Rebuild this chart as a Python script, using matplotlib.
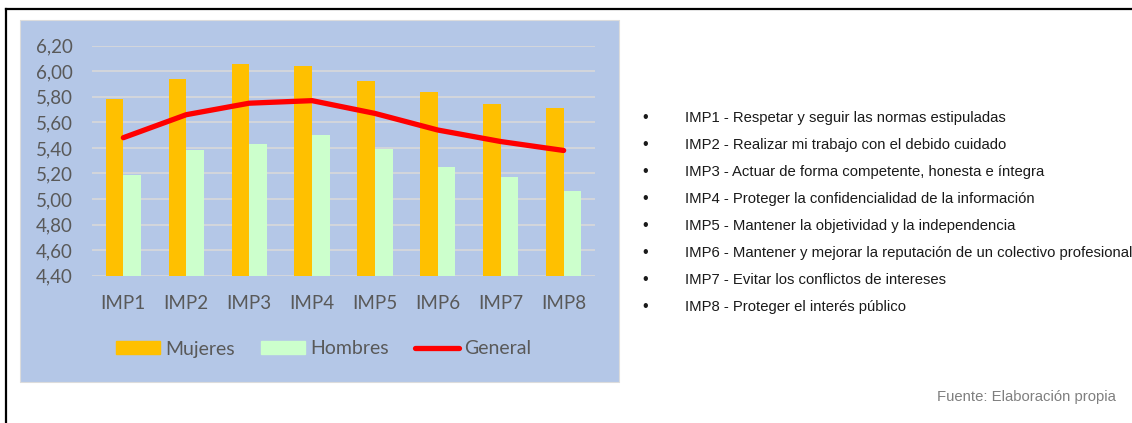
import matplotlib.pyplot as plt
import numpy as np
from matplotlib.patches import Rectangle
from matplotlib.lines import Line2D

# data
categories = ["IMP1", "IMP2", "IMP3", "IMP4", "IMP5", "IMP6", "IMP7", "IMP8"]
mujeres = [5.78, 5.94, 6.06, 6.04, 5.92, 5.84, 5.74, 5.71]
hombres = [5.19, 5.38, 5.43, 5.50, 5.39, 5.25, 5.17, 5.06]
general = [5.48, 5.66, 5.75, 5.77, 5.67, 5.54, 5.45, 5.38]
y_ticks = [4.40, 4.60, 4.80, 5.00, 5.20, 5.40, 5.60, 5.80, 6.00, 6.20]

descriptions = [
    "IMP1 - Respetar y seguir las normas estipuladas",
    "IMP2 - Realizar mi trabajo con el debido cuidado",
    "IMP3 - Actuar de forma competente, honesta e íntegra",
    "IMP4 - Proteger la confidencialidad de la información",
    "IMP5 - Mantener la objetividad y la independencia",
    "IMP6 - Mantener y mejorar la reputación de un colectivo profesional",
    "IMP7 - Evitar los conflictos de intereses",
    "IMP8 - Proteger el interés público",
]
source = "Fuente: Elaboración propia"

W, H = 1132, 423
fig = plt.figure(figsize=(W / 100, H / 100), dpi=100)
fig.patch.set_facecolor("white")

def fx(px):
    return px / W

def fy(py):
    return 1 - py / H

# page border (top and left only visible)
fig.add_artist(Line2D([fx(6), fx(1132)], [fy(9), fy(9)], color="black", lw=1.6))
fig.add_artist(Line2D([fx(6), fx(6)], [fy(9), fy(423)], color="black", lw=1.6))

# blue chart panel, behind the axes
fig.add_artist(Rectangle((fx(20), fy(381.5)), fx(599), (381.5 - 20) / H,
                         facecolor="#b4c7e7", edgecolor="#dcdcdc", lw=0.8,
                         zorder=-10))

ax = fig.add_axes([fx(91.9), fy(275.7), fx(503.2), (275.7 - 45.7) / H])
ax.set_facecolor("none")
ax.set_zorder(5)

x = np.arange(len(categories))
bw = 0.28
ax.bar(x - bw / 2, mujeres, bw, color="#ffc000", label="Mujeres", zorder=2)
ax.bar(x + bw / 2, hombres, bw, color="#ccffcc", label="Hombres", zorder=2)
ax.plot(x, general, color="#ff0000", lw=3.8, solid_capstyle="round",
        solid_joinstyle="round", label="General", zorder=3)

ax.set_xlim(-0.5, len(categories) - 0.5)
ax.set_ylim(4.40, 6.20)
ax.set_yticks(y_ticks)
ax.set_yticklabels([f"{v:.2f}".replace(".", ",") for v in y_ticks])
ax.set_xticks(x)
ax.set_xticklabels(categories)
ax.grid(axis="y", color="#d9d9d9", lw=1.2, zorder=0)
ax.set_axisbelow(True)
for s in ax.spines.values():
    s.set_visible(False)
ax.tick_params(length=0, labelsize=13.5, labelcolor="#595959")
ax.tick_params(axis="x", pad=14)
ax.tick_params(axis="y", pad=14)
for lab in ax.get_xticklabels() + ax.get_yticklabels():
    lab.set_family("Lato")

handles = [
    Rectangle((0, 0), 1, 1, color="#ffc000"),
    Rectangle((0, 0), 1, 1, color="#ccffcc"),
    Line2D([0], [0], color="#ff0000", lw=3.8, solid_capstyle="round"),
]
fig.legend(handles, ["Mujeres", "Hombres", "General"], loc="center",
           bbox_to_anchor=(fx(323.8), fy(349)), ncol=3, frameon=False,
           prop={"family": "Lato", "size": 14}, labelcolor="#595959",
           handlelength=2.27, handleheight=0.62, handletextpad=0.26,
           columnspacing=1.34)

# right-hand description list
for i, txt in enumerate(descriptions):
    yy = 117.7 + i * 27.0
    fig.text(fx(645), fy(yy), "•", ha="center", va="center",
             family="Liberation Sans", fontsize=11.5, color="#1a1a1a")
    fig.text(fx(685), fy(yy), txt, ha="left", va="center",
             family="Liberation Sans", fontsize=10.7, color="#1a1a1a")

fig.text(fx(1115.7), fy(397), source, ha="right", va="center",
         family="Liberation Sans", fontsize=10.7, color="#7f7f7f")

fig.savefig("out.png", dpi=100)
